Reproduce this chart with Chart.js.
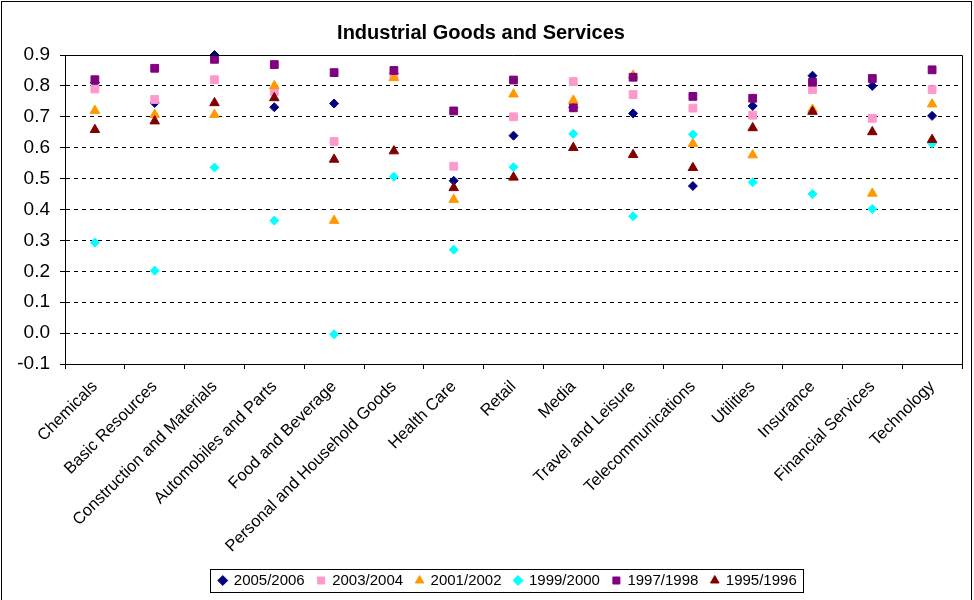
<!DOCTYPE html>
<html>
<head>
<meta charset="utf-8">
<script src="https://cdn.jsdelivr.net/npm/chart.js@4.4.1/dist/chart.umd.min.js"></script>
<style>
  html, body { margin: 0; padding: 0; background: #fff; }
  #wrap { width: 974px; height: 600px; }
</style>
</head>
<body>
<div id="wrap"><canvas id="chart" width="974" height="600"></canvas></div>
<script>
// sectores
const sectores = ['Chemicals', 'Basic Resources', 'Construction and Materials', 'Automobiles and Parts',
  'Food and Beverage', 'Personal and Household Goods', 'Health Care', 'Retail', 'Media',
  'Travel and Leisure', 'Telecommunications', 'Utilities', 'Insurance', 'Financial Services', 'Technology'];

// valores por periodo
const v2005 = [0.81, 0.745, 0.90, 0.731, 0.743, 0.84, 0.493, 0.639, 0.73, 0.711, 0.476, 0.735, 0.833, 0.80, 0.703];
const v2003 = [0.79, 0.756, 0.82, 0.782, 0.62, 0.83, 0.54, 0.70, 0.814, 0.772, 0.728, 0.705, 0.788, 0.695, 0.788];
const v2001 = [0.72, 0.707, 0.707, 0.80, 0.364, 0.826, 0.432, 0.773, 0.753, 0.834, 0.613, 0.576, 0.724, 0.452, 0.741];
const v1999 = [0.293, 0.202, 0.536, 0.364, -0.004, 0.506, 0.27, 0.537, 0.645, 0.378, 0.643, 0.488, 0.45, 0.402, 0.614];
const v1997 = [0.82, 0.857, 0.886, 0.869, 0.843, 0.85, 0.719, 0.819, 0.729, 0.828, 0.766, 0.76, 0.812, 0.824, 0.852];
const v1995 = [0.658, 0.686, 0.745, 0.761, 0.562, 0.589, 0.47, 0.504, 0.60, 0.577, 0.535, 0.664, 0.717, 0.651, 0.626];

// limites del eje y
const yMin = -0.1;
const yMax = 0.9;
const yPaso = 0.1;

const fuente = 'Liberation Sans, Arial, sans-serif';

function serie(label, data, color, estilo, radio, orden) {
  return {
    label: label,
    data: data,
    showLine: false,
    pointStyle: estilo,
    pointRadius: radio,
    pointBackgroundColor: color,
    pointBorderColor: color,
    pointBorderWidth: 1,
    backgroundColor: color,
    borderColor: color,
    clip: false,
    order: orden
  };
}

// marcos: borde exterior, borde del area de trazado y caja de la leyenda
const marcos = {
  id: 'marcos',
  afterLayout(chart) {
    // la leyenda del original esta algo desplazada a la derecha
    chart.legend.left += 27;
    chart.legend.right += 27;
  },
  afterDraw(chart) {
    const ctx = chart.ctx;
    const a = chart.chartArea;
    ctx.save();
    ctx.strokeStyle = '#000';
    ctx.lineWidth = 1;
    ctx.setLineDash([]);
    ctx.beginPath();
    ctx.moveTo(a.left, a.top + 0.5);
    ctx.lineTo(a.right + 0.5, a.top + 0.5);
    ctx.lineTo(a.right + 0.5, a.bottom);
    ctx.stroke();
    ctx.strokeRect(1.5, 1.5, 970, 640);
    const hb = chart.legend.legendHitBoxes;
    if (hb && hb.length) {
      let l = Infinity, r = -Infinity, t = Infinity, b = -Infinity;
      hb.forEach(h => {
        l = Math.min(l, h.left); r = Math.max(r, h.left + h.width);
        t = Math.min(t, h.top); b = Math.max(b, h.top + h.height);
      });
      ctx.strokeRect(Math.round(l - 9) + 0.5, Math.round(t - 4) + 0.5, Math.round(r - l + 16), Math.round(b - t + 8));
    }
    ctx.restore();
  }
};

new Chart(document.getElementById('chart').getContext('2d'), {
  type: 'line',
  data: {
    labels: sectores,
    datasets: [
      serie('2005/2006', v2005, '#000080', 'rectRot', 4.5, 6),
      serie('2003/2004', v2003, '#FF99CC', 'rect', 5.5, 5),
      serie('2001/2002', v2001, '#FF9900', 'triangle', 5.5, 4),
      serie('1999/2000', v1999, '#00FFFF', 'rectRot', 4.5, 3),
      serie('1997/1998', v1997, '#800080', 'rect', 5.5, 2),
      serie('1995/1996', v1995, '#800000', 'triangle', 5.5, 1)
    ]
  },
  options: {
    responsive: false,
    animation: false,
    events: [],
    layout: { padding: { left: 0, right: 12, top: 0, bottom: 2 } },
    plugins: {
      title: {
        display: true,
        text: 'Industrial Goods and Services',
        color: '#000',
        font: { family: fuente, size: 20, weight: 'bold' },
        padding: { top: 21, bottom: 10 }
      },
      legend: {
        position: 'bottom',
        labels: {
          usePointStyle: true,
          boxWidth: 7,
          boxHeight: 7,
          padding: 13,
          color: '#000',
          font: { family: fuente, size: 15 },
          sort: (a, b) => a.datasetIndex - b.datasetIndex
        }
      },
      tooltip: { enabled: false }
    },
    scales: {
      x: {
        type: 'category',
        offset: true,
        afterFit: (s) => { s.height = 196; },
        grid: {
          offset: true,
          drawOnChartArea: false,
          drawTicks: true,
          tickLength: 5,
          tickColor: '#000'
        },
        border: { display: true, color: '#000', width: 1 },
        ticks: {
          minRotation: 45,
          maxRotation: 45,
          autoSkip: false,
          padding: 8,
          color: '#000',
          font: { family: fuente, size: 16.5 }
        }
      },
      y: {
        min: yMin,
        max: yMax,
        afterFit: (s) => { s.width = 65; },
        grid: {
          color: '#000',
          lineWidth: 1,
          drawTicks: true,
          tickLength: 5,
          tickColor: '#000',
          tickBorderDash: []
        },
        border: { display: true, color: '#000', width: 1, dash: [4, 4] },
        ticks: {
          stepSize: yPaso,
          padding: 10,
          color: '#000',
          font: { family: fuente, size: 19 },
          callback: (v) => Number(v).toFixed(1)
        }
      }
    }
  },
  plugins: [marcos]
});
</script>
</body>
</html>
